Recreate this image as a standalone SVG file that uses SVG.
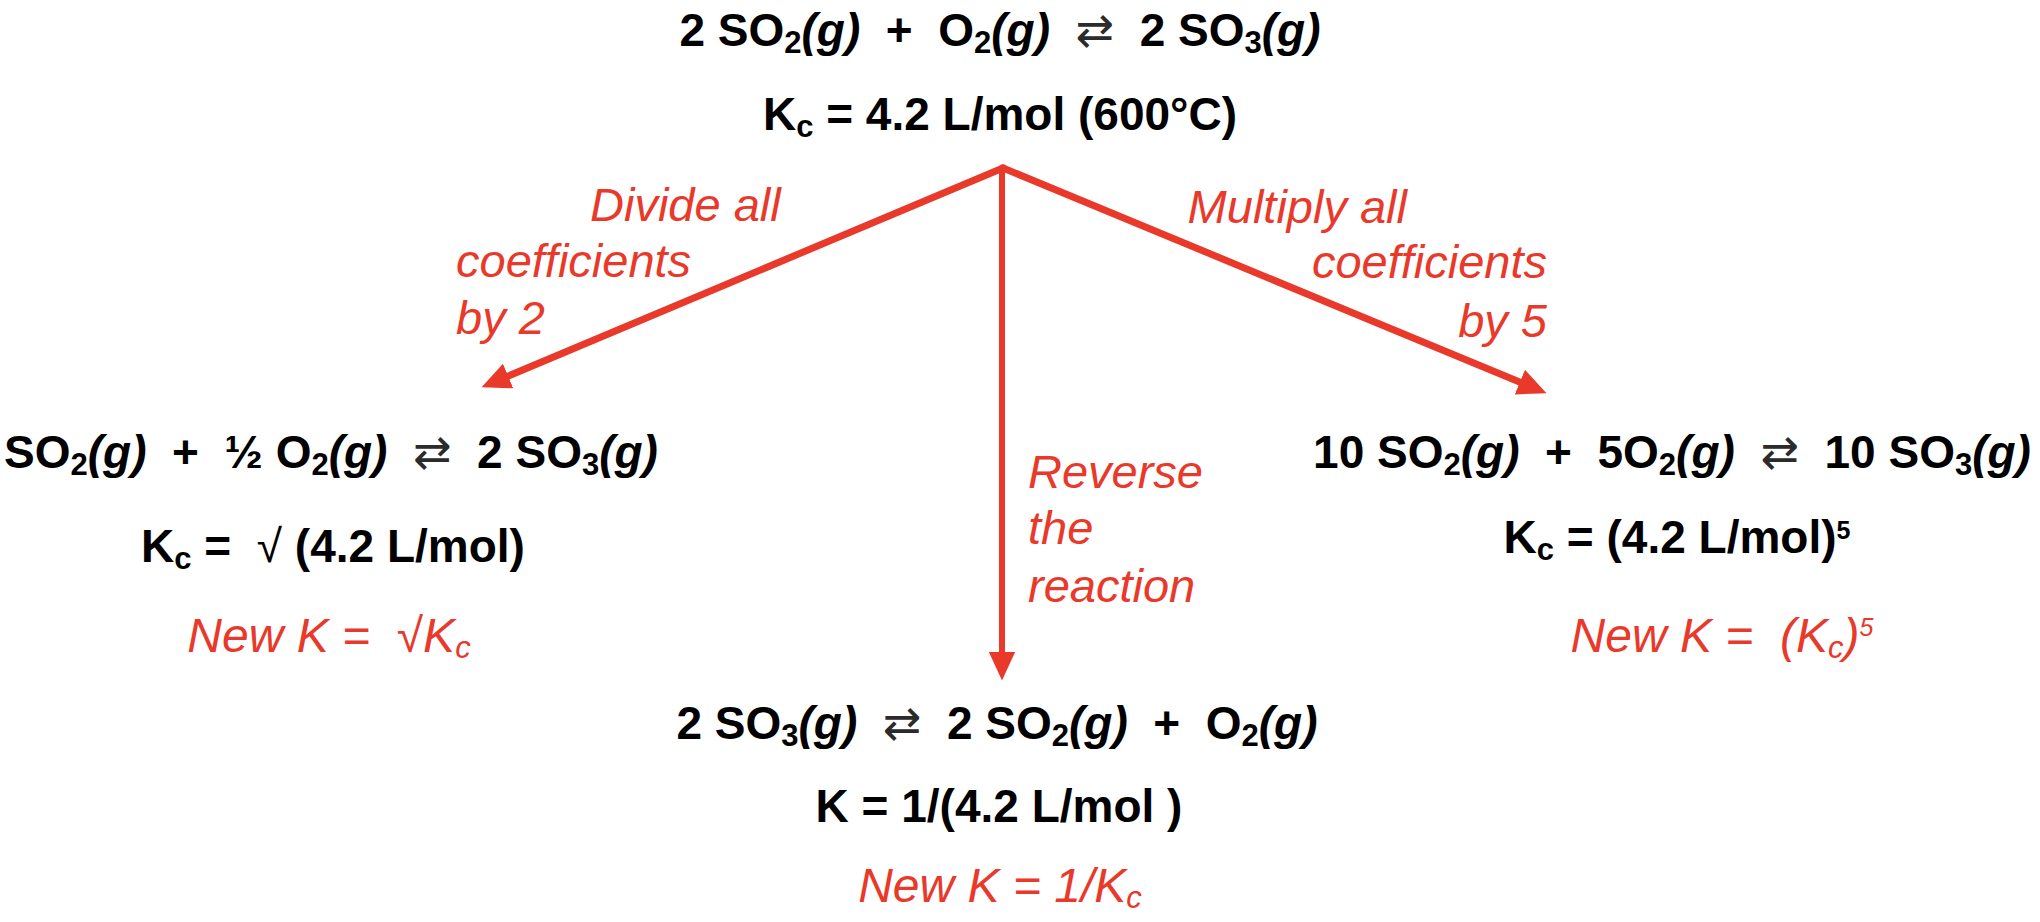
<svg xmlns="http://www.w3.org/2000/svg" width="2040" height="922" viewBox="0 0 2040 922">
<defs>
<style>
text{white-space:pre;font-family:"Liberation Sans",Arial,sans-serif;}
.b{font-size:46px;font-weight:bold;fill:#000;}
.r{font-size:48px;font-style:italic;fill:#E8392B;}
.l{font-size:47px;font-style:italic;fill:#E8392B;}
.sub{font-size:31px;}
.sup{font-size:25px;}
.i{font-style:italic;}
.eq{font-family:"DejaVu Sans",sans-serif;font-weight:normal;fill:#2b2b2b;}
.rt{font-weight:normal;}
.arrow{stroke:#E8392B;fill:none;stroke-linecap:round;}
</style>
<marker id="ah" markerUnits="userSpaceOnUse" markerWidth="30" markerHeight="30" viewBox="0 -12 26 24" refX="2" refY="0" orient="auto">
<path d="M0,-11.5 L25,0 L0,11.5 Z" fill="#E8392B"/>
</marker>
</defs>
<g id="connectors">
<path class="arrow" d="M1003,168 L506,377" stroke-width="7" marker-end="url(#ah)"/>
<path class="arrow" d="M1003,168 L1522,383" stroke-width="7" marker-end="url(#ah)"/>
<path class="arrow" d="M1002,168 L1002,654" stroke-width="6" marker-end="url(#ah)"/>
</g>
<g id="top">
<text class="b" x="1000" y="46" text-anchor="middle">2 SO<tspan class="sub" dy="7">2</tspan><tspan class="i" dy="-7">(g)</tspan>  +  O<tspan class="sub" dy="7">2</tspan><tspan class="i" dy="-7">(g)</tspan>  <tspan class="eq">⇄</tspan>  2 SO<tspan class="sub" dy="7">3</tspan><tspan class="i" dy="-7">(g)</tspan></text>
<text class="b" x="1000" y="130" text-anchor="middle">K<tspan class="sub" dy="7">c</tspan><tspan dy="-7"> = 4.2 L/mol (600°C)</tspan></text>
</g>
<g id="left">
<text class="b" x="331" y="468" text-anchor="middle">SO<tspan class="sub" dy="7">2</tspan><tspan class="i" dy="-7">(g)</tspan>  +  ½ O<tspan class="sub" dy="7">2</tspan><tspan class="i" dy="-7">(g)</tspan>  <tspan class="eq">⇄</tspan>  2 SO<tspan class="sub" dy="7">3</tspan><tspan class="i" dy="-7">(g)</tspan></text>
<text class="b" x="333" y="562" text-anchor="middle">K<tspan class="sub" dy="7">c</tspan><tspan dy="-7"> =  </tspan><tspan class="rt">√</tspan> (4.2 L/mol)</text>
<text class="r" x="329" y="652" text-anchor="middle">New K =  √K<tspan class="sub" dy="6">c</tspan></text>
</g>
<g id="right">
<text class="b" x="1672" y="468" text-anchor="middle">10 SO<tspan class="sub" dy="7">2</tspan><tspan class="i" dy="-7">(g)</tspan>  +  5O<tspan class="sub" dy="7">2</tspan><tspan class="i" dy="-7">(g)</tspan>  <tspan class="eq">⇄</tspan>  10 SO<tspan class="sub" dy="7">3</tspan><tspan class="i" dy="-7">(g)</tspan></text>
<text class="b" x="1677" y="553" text-anchor="middle">K<tspan class="sub" dy="7">c</tspan><tspan dy="-7"> = (4.2 L/mol)</tspan><tspan class="sup" dy="-14">5</tspan></text>
<text class="r" x="1722" y="652" text-anchor="middle">New K =  (K<tspan class="sub" dy="6">c</tspan><tspan dy="-6">)</tspan><tspan class="sup" dy="-16">5</tspan></text>
</g>
<g id="bottom">
<text class="b" x="997" y="739" text-anchor="middle">2 SO<tspan class="sub" dy="7">3</tspan><tspan class="i" dy="-7">(g)</tspan>  <tspan class="eq">⇄</tspan>  2 SO<tspan class="sub" dy="7">2</tspan><tspan class="i" dy="-7">(g)</tspan>  +  O<tspan class="sub" dy="7">2</tspan><tspan class="i" dy="-7">(g)</tspan></text>
<text class="b" x="999" y="822" text-anchor="middle">K = 1/(4.2 L/mol )</text>
<text class="r" x="1000" y="902" text-anchor="middle">New K = 1/K<tspan class="sub" dy="6">c</tspan></text>
</g>
<g id="labels">
<text class="l" x="590" y="221">Divide all</text>
<text class="l" x="456" y="277">coefficients</text>
<text class="l" x="456" y="334">by 2</text>
<text class="l" x="1407" y="223" text-anchor="end">Multiply all</text>
<text class="l" x="1547" y="278" text-anchor="end">coefficients</text>
<text class="l" x="1547" y="337" text-anchor="end">by 5</text>
<text class="l" x="1028" y="488">Reverse</text>
<text class="l" x="1028" y="544">the</text>
<text class="l" x="1028" y="602">reaction</text>
</g>
</svg>
